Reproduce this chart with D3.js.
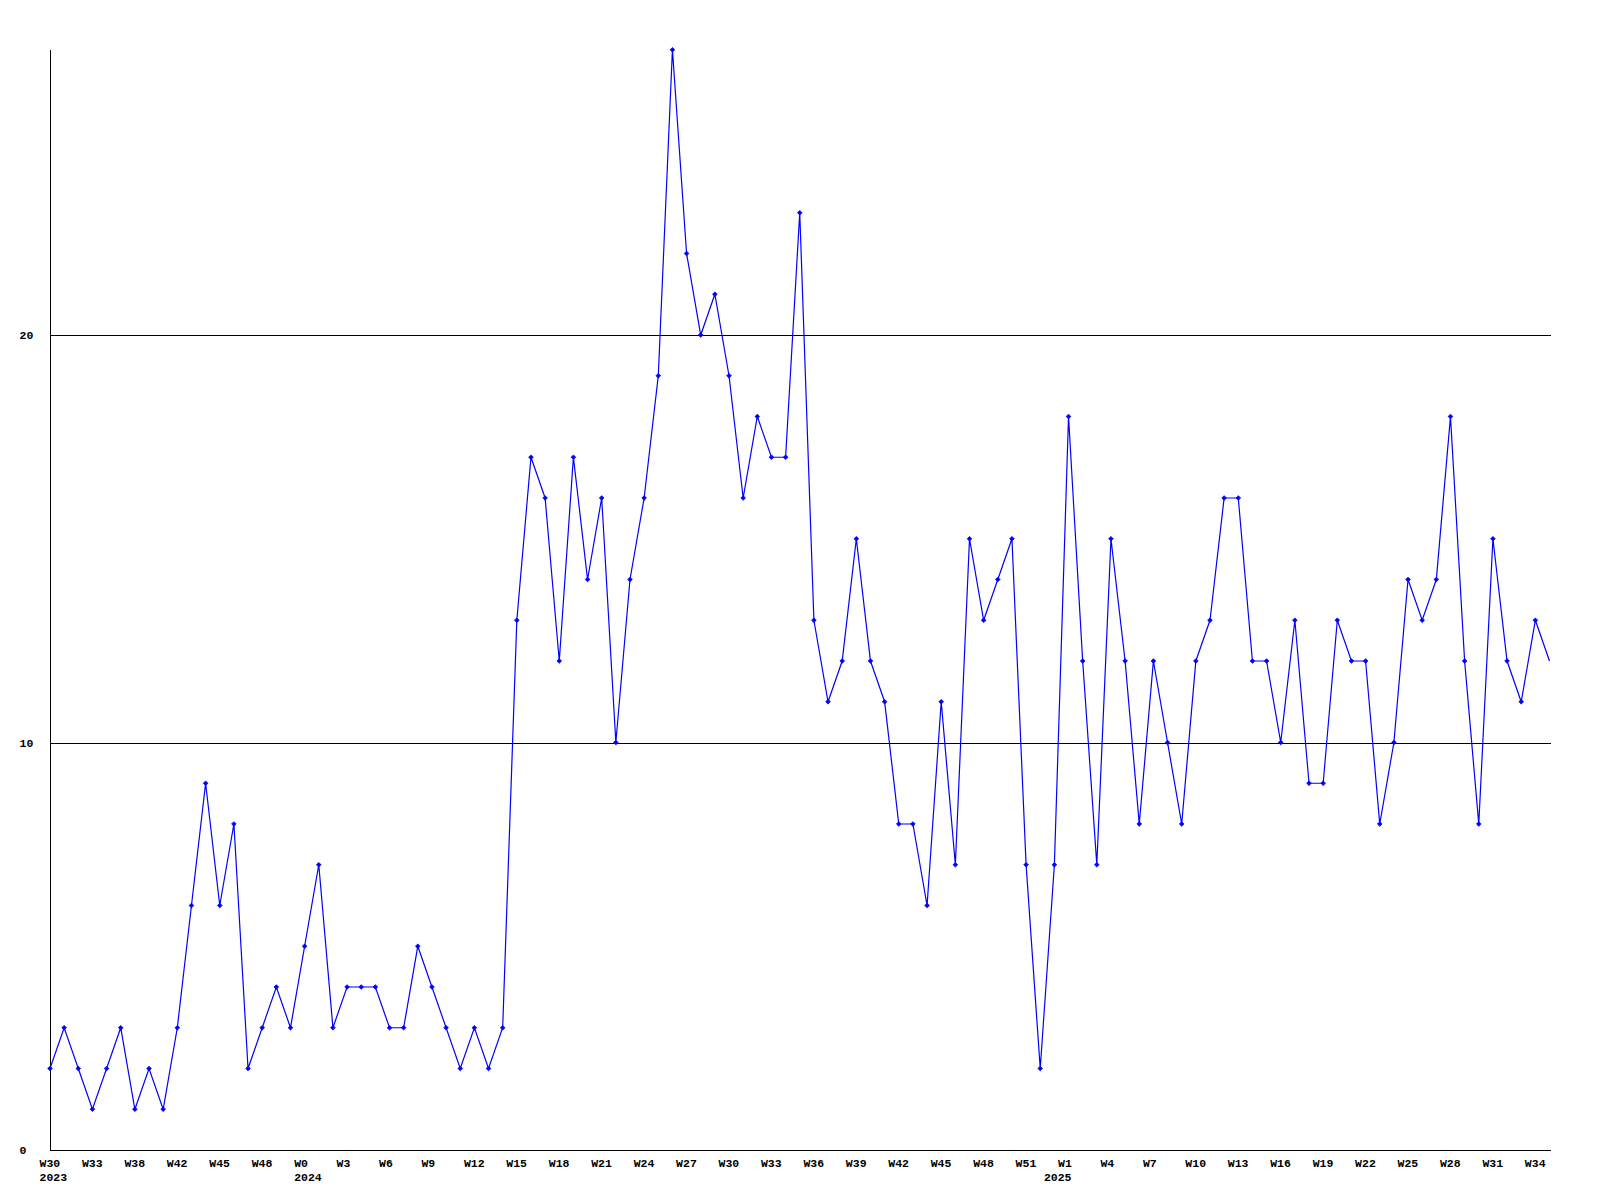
<!DOCTYPE html>
<html>
<head>
<meta charset="utf-8">
<script src="https://cdn.jsdelivr.net/npm/d3@7"></script>
<style>
  html, body { margin: 0; padding: 0; background: #ffffff; }
  svg { display: block; }
  text { font-family: "Liberation Mono", "DejaVu Sans Mono", monospace; font-weight: bold; font-size: 11.5px; fill: #000; }
</style>
</head>
<body>
<svg id="chart" width="1600" height="1200"></svg>
<script>
// ---- data ----
const values = [
  2, 3, 2, 1, 2, 3, 1, 2, 1, 3,
  6, 9, 6, 8, 2, 3, 4, 3, 5, 7,
  3, 4, 4, 4, 3, 3, 5, 4, 3, 2,
  3, 2, 3, 13, 17, 16, 12, 17, 14, 16,
  10, 14, 16, 19, 27, 22, 20, 21, 19, 16,
  18, 17, 17, 23, 13, 11, 12, 15, 12, 11,
  8, 8, 6, 11, 7, 15, 13, 14, 15, 7,
  2, 7, 18, 12, 7, 15, 12, 8, 12, 10,
  8, 12, 13, 16, 16, 12, 12, 10, 13, 9,
  9, 13, 12, 12, 8, 10, 14, 13, 14, 18,
  12, 8, 15, 12, 11, 13, 12
];
const weekLabels = ["W30","W33","W38","W42","W45","W48","W0","W3","W6","W9","W12","W15",
  "W18","W21","W24","W27","W30","W33","W36","W39","W42","W45","W48","W51",
  "W1","W4","W7","W10","W13","W16","W19","W22","W25","W28","W31","W34"];
const weekLabelIndex = weekLabels.map((d, i) => i * 3);
const yearLabels = ["2023", "2024", "2025"];
const yearLabelIndex = [0, 18, 71];
const yTicks = [0, 10, 20];
const gridValues = [10, 20];
const yMax = 27;

// ---- drawing ----
const svg = d3.select("#chart");
const left = 50, right = 1551, bottom = 1150, lastX = 1549.5;
const x = d3.scaleLinear().domain([0, values.length - 1]).range([left, lastX]);
const y = d3.scaleLinear().domain([0, yMax]).range([bottom, bottom - yMax * 40.75]);

// gridlines
svg.selectAll("line.grid").data(gridValues).enter().append("line")
  .attr("class", "grid")
  .attr("x1", left).attr("x2", right)
  .attr("y1", d => Math.round(y(d)) + 0.5).attr("y2", d => Math.round(y(d)) + 0.5)
  .attr("stroke", "#000").attr("stroke-width", 1).attr("shape-rendering", "crispEdges");

// axes lines
svg.append("line")
  .attr("x1", left + 0.5).attr("x2", left + 0.5)
  .attr("y1", Math.round(y(yMax))).attr("y2", bottom + 0.5)
  .attr("stroke", "#000").attr("shape-rendering", "crispEdges");
svg.append("line")
  .attr("x1", left).attr("x2", right)
  .attr("y1", bottom + 0.5).attr("y2", bottom + 0.5)
  .attr("stroke", "#000").attr("shape-rendering", "crispEdges");

// y tick labels
svg.selectAll("text.ylab").data(yTicks).enter().append("text")
  .attr("class", "ylab")
  .attr("x", 19.5)
  .attr("y", d => y(d) + 4)
  .attr("text-anchor", "start")
  .text(d => d);

// x week labels
svg.selectAll("text.wlab").data(weekLabels).enter().append("text")
  .attr("class", "wlab")
  .attr("x", (d, i) => x(weekLabelIndex[i]) - 10.5)
  .attr("y", 1166.5)
  .attr("text-anchor", "start")
  .text(d => d);

// year labels
svg.selectAll("text.ylbl").data(yearLabels).enter().append("text")
  .attr("class", "ylbl")
  .attr("x", (d, i) => x(yearLabelIndex[i]) - 10.5)
  .attr("y", 1180.5)
  .attr("text-anchor", "start")
  .text(d => d);

// series line
const line = d3.line().x((d, i) => x(i)).y(d => y(d));
svg.append("path")
  .datum(values)
  .attr("d", line)
  .attr("fill", "none")
  .attr("stroke", "#0000ff")
  .attr("stroke-width", 1.2);

// markers (small diamonds), none on last point
const diamond = d3.symbol().type(d3.symbolDiamond2).size(14);
svg.selectAll("path.mk").data(values.slice(0, values.length - 1)).enter().append("path")
  .attr("class", "mk")
  .attr("transform", (d, i) => `translate(${x(i)},${y(d)})`)
  .attr("d", diamond)
  .attr("fill", "#0000ff")
  .attr("stroke", "#0000ff")
  .attr("stroke-width", 0.8);
</script>
</body>
</html>
